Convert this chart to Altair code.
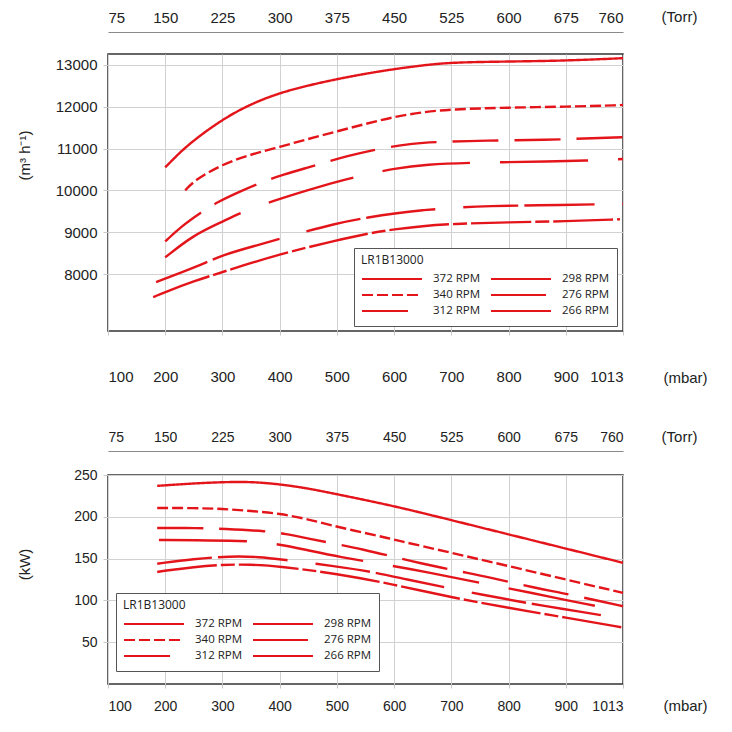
import altair as alt
import pandas as pd

RED = "#e3151b"
FONT = "Liberation Sans"
LEGEND_FONT = "Open Sans"

series = ["372 RPM", "340 RPM", "312 RPM", "298 RPM", "276 RPM", "266 RPM"]
dash_patterns = {
    "372 RPM": [1, 0],
    "340 RPM": [11, 4],
    "312 RPM": [46, 16],
    "298 RPM": [88, 30],
    "276 RPM": [55, 6, 70, 28],
    "266 RPM": [60, 4, 14, 4],
}

x_ticks = [100, 200, 300, 400, 500, 600, 700, 800, 900, 1013]
torr_labels = ["75", "150", "225", "300", "375", "450", "525", "600", "675", "760"]

# ---- top panel: pumping speed (m3/h) vs pressure (mbar)
flow_372_p = [200, 225, 250, 300, 350, 400, 450, 500, 550, 600, 650, 700, 800, 900, 1013]
flow_372_v = [10550, 10900, 11200, 11700, 12070, 12330, 12510, 12660, 12790, 12900, 12990, 13060, 13080, 13100, 13160]
flow_340_p = [235, 250, 300, 350, 400, 450, 500, 550, 600, 650, 700, 800, 900, 1013]
flow_340_v = [10000, 10230, 10630, 10860, 11040, 11230, 11410, 11590, 11760, 11870, 11940, 11980, 12000, 12040]
flow_312_p = [200, 227, 263, 291, 330, 373, 405, 450, 487, 519, 560, 615, 648, 700, 751, 877, 910, 1013]
flow_312_v = [8780, 9130, 9480, 9720, 9970, 10220, 10370, 10550, 10700, 10820, 10960, 11090, 11140, 11170, 11190, 11210, 11230, 11270]
flow_298_p = [200, 250, 300, 333, 389, 450, 500, 550, 600, 653, 750, 876, 936, 1013]
flow_298_v = [8400, 8940, 9250, 9480, 9750, 10010, 10210, 10380, 10520, 10620, 10670, 10690, 10710, 10750]
flow_276_p = [184, 258, 300, 361, 417, 500, 557, 600, 650, 700, 755, 897, 1013]
flow_276_v = [7810, 8190, 8460, 8690, 8910, 9220, 9360, 9450, 9530, 9580, 9630, 9650, 9680]
flow_266_p = [179, 200, 250, 300, 400, 500, 557, 600, 650, 700, 800, 900, 1007]
flow_266_v = [7450, 7570, 7830, 8050, 8480, 8810, 8980, 9070, 9150, 9200, 9240, 9260, 9310]

# ---- bottom panel: power (kW) vs pressure (mbar)
pow_372_p = [186, 250, 300, 350, 400, 450, 500, 600, 700, 800, 900, 1013]
pow_372_v = [237, 240, 241.5, 242, 239, 234, 227, 213, 196, 179, 162, 145]
pow_340_p = [186, 250, 300, 350, 400, 450, 500, 580, 600, 700, 800, 900, 1013]
pow_340_v = [210.5, 210.5, 209.5, 207, 204, 197, 188, 176, 172.6, 157, 141, 125, 109]
pow_312_p = [186, 256, 300, 381, 409, 450, 496, 546, 600, 641, 730, 761, 856, 886, 968, 1013]
pow_312_v = [186.6, 186.6, 185.8, 182.6, 179.8, 174, 167.8, 161, 152, 145, 132.6, 128.4, 113.6, 110, 99, 93]
pow_298_p = [189, 250, 332, 386, 450, 500, 600, 657, 750, 848, 903, 1013]
pow_298_v = [172.2, 172, 171.4, 169, 160, 152.5, 141, 134, 121, 108, 100, 87]
pow_276_p = [186, 250, 312, 367, 400, 500, 563, 619, 700, 831, 886, 1013]
pow_276_v = [143.9, 149.5, 153, 152, 149.2, 140.8, 134, 125.5, 114, 96.8, 90.9, 78]
pow_266_p = [186, 200, 250, 300, 350, 400, 500, 600, 700, 800, 900, 1013]
pow_266_v = [134, 135.6, 140, 142.8, 143, 140.8, 132, 119, 103.6, 91, 79.4, 67.5]


def long_df(ps, vs):
    rows = []
    for s, p, v in zip(series, ps, vs):
        for a, b in zip(p, v):
            rows.append({"series": s, "mbar": a, "val": b})
    return pd.DataFrame(rows)


flow_df = long_df(
    [flow_372_p, flow_340_p, flow_312_p, flow_298_p, flow_276_p, flow_266_p],
    [flow_372_v, flow_340_v, flow_312_v, flow_298_v, flow_276_v, flow_266_v],
)
pow_df = long_df(
    [pow_372_p, pow_340_p, pow_312_p, pow_298_p, pow_276_p, pow_266_p],
    [pow_372_v, pow_340_v, pow_312_v, pow_298_v, pow_276_v, pow_266_v],
)

W = 515
TORR_EXPR = "[" + ",".join("'%s'" % t for t in torr_labels) + "][indexof([" + \
    ",".join(str(v) for v in x_ticks) + "], datum.value)]"


def panel(df, H, ydomain, yvalues, ytitle, ytitle_y, fs, bottom_pad, mbar_title_y,
          top_offset, torr_title_y, legend_x, legend_y):
    xscale = alt.Scale(domain=[100, 900, 1013], range=[0, W * 800 / 900, W], nice=False, zero=False)
    yscale = alt.Scale(domain=ydomain, nice=False, zero=False)
    bottom_axis = alt.Axis(
        values=x_ticks, format="d", grid=True, gridColor="#d2d2d2", domain=False,
        ticks=True, tickColor="#c8c8c8", tickSize=4, labelPadding=bottom_pad,
        labelFontSize=fs, labelColor="#222222", labelFont=FONT,
        title="(mbar)", titleX=W + 62, titleY=mbar_title_y, titleAlign="center",
        titleBaseline="middle", titleFontWeight="normal", titleFontSize=15,
        titleColor="#222222", titleFont=FONT,
    )
    top_axis = alt.Axis(
        orient="top", values=x_ticks, labelExpr=TORR_EXPR, grid=False, ticks=False,
        domain=True, domainColor="#8a8a8a", domainWidth=1.2, offset=top_offset,
        labelPadding=7, labelFontSize=fs, labelColor="#222222", labelFont=FONT,
        title="(Torr)", titleX=W + 56, titleY=torr_title_y, titleAlign="center",
        titleBaseline="middle", titleFontWeight="normal", titleFontSize=15,
        titleColor="#222222", titleFont=FONT,
    )
    yaxis = alt.Axis(
        values=yvalues, format="d", grid=True, gridColor="#d2d2d2", domain=False,
        ticks=True, tickColor="#c8c8c8", tickSize=5, labelPadding=6,
        labelFontSize=fs, labelColor="#222222", labelFont=FONT,
        title=ytitle, titleAngle=270, titleX=-84, titleY=ytitle_y, titleAlign="center",
        titleBaseline="middle", titleFontWeight="normal", titleFontSize=15,
        titleColor="#222222", titleFont=FONT,
    )
    legend = alt.Legend(
        title="LR1B13000", orient="none", legendX=legend_x, legendY=legend_y,
        columns=2, symbolType="stroke", symbolSize=3600, symbolStrokeWidth=2,
        symbolStrokeColor=RED, clipHeight=16, rowPadding=0, columnPadding=9,
        labelOffset=10, padding=7, strokeColor="#555555", fillColor="white",
        titleFontSize=12, titleFontWeight="normal", titleFont=LEGEND_FONT,
        titleColor="#222222", titlePadding=4, labelFontSize=11.5, labelFont=LEGEND_FONT,
        labelColor="#222222",
    )
    lines = alt.Chart(df).mark_line(color=RED, strokeWidth=2.4, interpolate="basis").encode(
        x=alt.X("mbar:Q", scale=xscale, axis=bottom_axis),
        y=alt.Y("val:Q", scale=yscale, axis=yaxis),
        strokeDash=alt.StrokeDash(
            "series:N",
            scale=alt.Scale(domain=series, range=[dash_patterns[s] for s in series]),
            legend=legend,
        ),
    )
    torr = alt.Chart(df).mark_line(opacity=0).encode(
        x=alt.X("mbar:Q", scale=xscale, axis=top_axis),
        y=alt.Y("val:Q", scale=yscale, axis=None),
        detail="series:N",
    )
    return alt.layer(lines, torr).resolve_axis(x="independent", y="independent").properties(
        width=W, height=H
    )


top = panel(flow_df, 277, [6640, 13260], [8000, 9000, 10000, 11000, 12000, 13000],
            "(m³ h⁻¹)", 101, 15, 34, 46, 22, -16, 246, 194)
bottom = panel(pow_df, 209, [0, 250], [50, 100, 150, 200, 250],
               "(kW)", 89, 14, 11, 21, 24, -15, 8, 118)

chart = alt.vconcat(top, bottom, spacing=42).resolve_scale(
    strokeDash="independent"
).resolve_legend(strokeDash="independent").properties(
    padding={"left": 8, "top": 0, "right": 5, "bottom": 5}
).configure_view(stroke="#333333", strokeWidth=1.5)

chart.save("out.html", embed_options={"renderer": "svg", "actions": False})
